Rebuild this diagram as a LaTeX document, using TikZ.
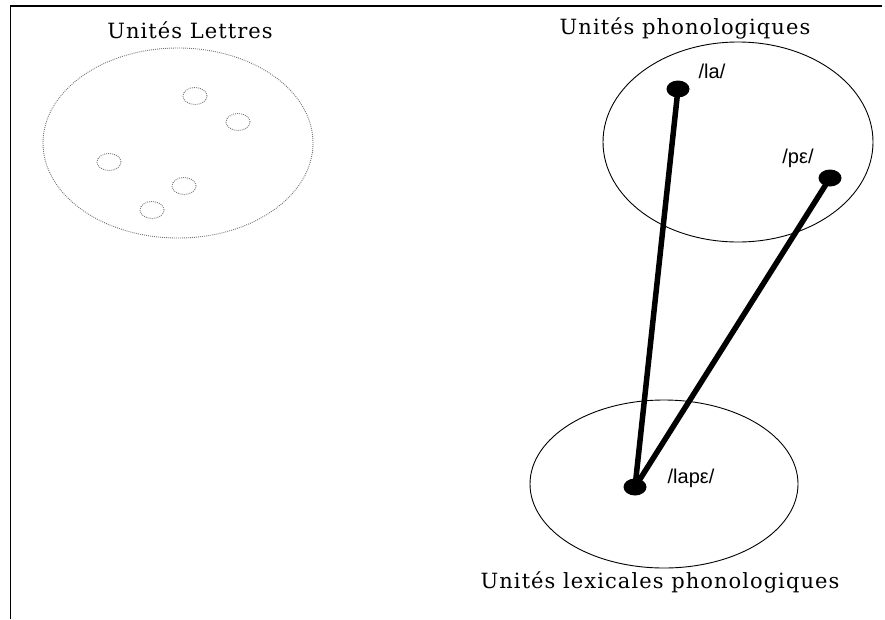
\documentclass[tikz,border=0pt]{standalone}
\usepackage{fontspec}
\setmainfont{DejaVu Serif}
\newfontfamily\titrefont{DejaVu Serif}[LetterSpace=5]
\newfontfamily\ipafont{Liberation Sans}
\usetikzlibrary{positioning,shapes.geometric}
\tikzset{
  ensemble/.style={ellipse,draw=black,line width=0.9pt,inner sep=0pt},
  ensdot/.style={ellipse,draw=black!55,dash pattern=on 0.9pt off 1.1pt,
                 line width=0.9pt,inner sep=0pt},
  lettre/.style={ensdot,minimum width=24pt,minimum height=17pt},
  unite/.style={ellipse,fill=black,minimum width=23pt,minimum height=17pt,inner sep=0pt},
  titre/.style={font=\titrefont\fontsize{21}{24}\selectfont,inner sep=0pt},
  phon/.style={font=\ipafont\fontsize{20}{22}\selectfont,inner sep=0pt},
  lien/.style={line width=5.5pt},
}

\begin{document}
\begin{tikzpicture}[x=1pt,y=-1pt]
  \useasboundingbox (0,0) rectangle (885,619);
  % cadre
  \draw[line width=1.6pt] (882,6) -- (10.5,6) -- (10.5,619);

  % unites lettres
  \node[ensdot,minimum width=270pt,minimum height=190pt] (lettres) at (178,143) {};
  \node[titre] (tlettres) at (190,30) {Unités Lettres};
  \foreach \x/\y [count=\i] in {195/96,238/122,109/162,184/186,152/210}
    \node[lettre] (l\i) at (\x,\y) {};

  % unites phonologiques
  \node[ensemble,minimum width=270pt,minimum height=200pt] (phono) at (738,142) {};
  \node[titre] (tphono) at (685,28) {Unités phonologiques};

  % unites lexicales phonologiques
  \node[ensemble,minimum width=268pt,minimum height=168pt] (lexic) at (664,484) {};
  \node[titre] (tlexic) at (660,582) {Unités lexicales phonologiques};

  \node[unite] (la) at (678,89) {};
  \node[unite] (pe) at (830,178) {};
  \node[unite] (lape) at (635,487) {};
  \draw[lien] (la.center) -- (lape.center);
  \draw[lien] (pe.center) -- (lape.center);

  \node[phon] (tla) at (712,71) {/la/};
  \node[phon] (tpe) at (798,158) {/pε/};
  \node[phon] (tlape) at (691,478) {/lapε/};
\end{tikzpicture}
\end{document}
